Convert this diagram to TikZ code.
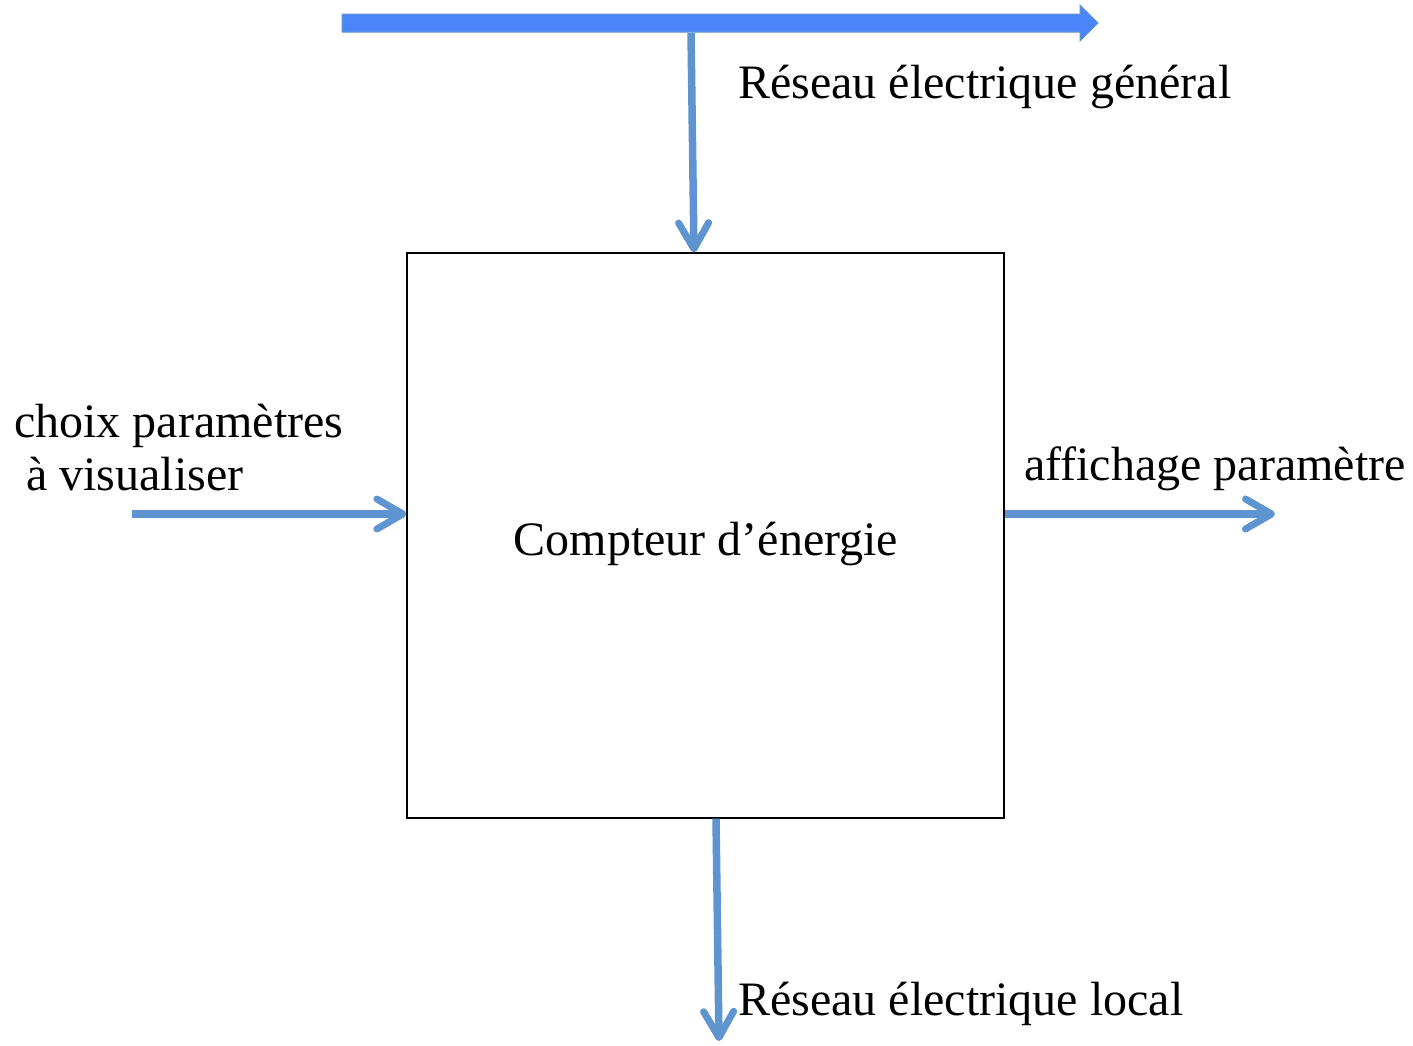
\documentclass[tikz,border=0pt]{standalone}
\usepackage{fontspec}
\setmainfont{Liberation Serif}
\usetikzlibrary{arrows.meta}
\definecolor{flowblue}{HTML}{5E94CF}
\definecolor{busblue}{HTML}{4A86FA}
\begin{document}
\begin{tikzpicture}[x=1pt,y=-1pt,
  lbl/.style={inner sep=0pt,anchor=base west,font=\fontsize{48}{56}\selectfont},
  flow/.style={draw=flowblue,line width=7.5pt,
    -{Straight Barb[length=26pt,width=30pt,line width=7pt,round]}},
  blockbox/.style={draw=black,line width=1.3pt,minimum width=597pt,minimum height=565pt,inner sep=0pt}]
\useasboundingbox (0,0) rectangle (1413,1045);
% main block
\node[blockbox] (meter) at (705.5,535.5) {};
\node[inner sep=0pt,anchor=base,font=\fontsize{48}{56}\selectfont] (title) at (706,555) {Compteur d’énergie};
% supply bus with its arrow head
\coordinate (busT) at (1098,23);
\draw[draw=flowblue,fill=busblue,line width=1pt]
  (342,14) -- (1080,14) -- (1080,5) -- (busT) -- (1080,41) -- (1080,32) -- (342,32) -- cycle;
% connectors
\coordinate (tap) at (691,33);
\draw[flow] (tap) -- (meter.north -| 694,0);
\coordinate (inL) at (132,514);
\draw[flow] (inL) -- (meter.west |- inL);
\coordinate (outR) at (1275,514);
\draw[flow] (meter.east |- outR) -- (outR);
\coordinate (bot) at (719,1041);
\draw[flow] (meter.south -| 716,0) -- (bot);
% labels
\node[lbl] (gen) at (738,98) {Réseau électrique général};
\node[lbl] (ch1) at (14,437) {choix paramètres};
\node[lbl] (ch2) at (26,490) {à visualiser};
\node[lbl] (aff) at (1024,480) {affichage paramètre};
\node[lbl] (loc) at (738,1015) {Réseau électrique local};
\end{tikzpicture}
\end{document}
